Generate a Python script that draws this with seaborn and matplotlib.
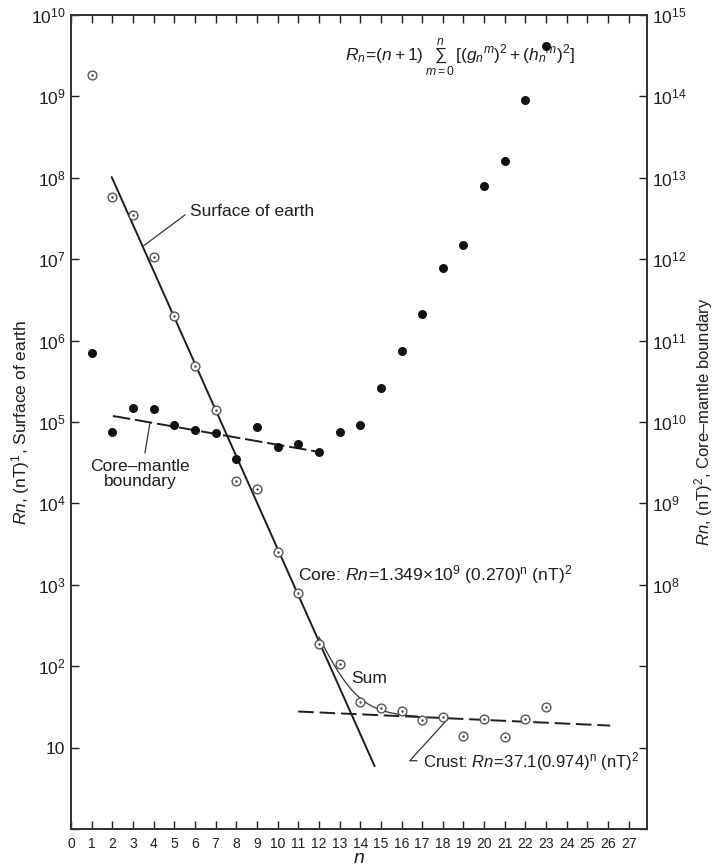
import numpy as np
import pandas as pd
import matplotlib
matplotlib.use("Agg")
import matplotlib.pyplot as plt
from matplotlib.ticker import FixedLocator, FixedFormatter, NullLocator
import seaborn as sns

# ---- data -------------------------------------------------------------
degree = list(range(1, 24))

# Rn at the surface of the earth (left axis, open circles)
surface_rn = [1.83e9, 5.8e7, 3.5e7, 1.05e7, 2.0e6, 4.9e5, 1.4e5, 1.9e4,
              1.5e4, 2.5e3, 800, 190, 106, 36, 31, 28, 22, 24, 14, 22.6,
              13.5, 22.6, 32]

# Rn continued down to the core-mantle boundary (right axis, filled dots)
cmb_rn = [7.0e10, 7.5e9, 1.47e10, 1.43e10, 9.2e9, 8.0e9, 7.4e9, 3.5e9,
          8.7e9, 5.0e9, 5.4e9, 4.3e9, 7.6e9, 9.2e9, 2.6e10, 7.5e10, 2.1e11,
          7.7e11, 1.5e12, 8.0e12, 1.6e13, 9.0e13, 4.2e14]

# fitted power laws Rn = A * r**n
core_fit = [1.349e9, 0.270]      # core, surface values
crust_fit = [37.1, 0.974]        # crust, surface values
cmb_fit = [1.46e10, 0.903]       # flat part at the core-mantle boundary
core_range = [1.97, 14.7]
crust_range = [11.0, 26.1]
cmb_range = [2.03, 12.2]
sum_range = [12.0, 16.8]

left_ticks = [1e0, 1e1, 1e2, 1e3, 1e4, 1e5, 1e6, 1e7, 1e8, 1e9, 1e10]
left_labels = ["", "10", "$10^{2}$", "$10^{3}$", "$10^{4}$", "$10^{5}$",
               "$10^{6}$", "$10^{7}$", "$10^{8}$", "$10^{9}$", "$10^{10}$"]
right_ticks = [1e5, 1e6, 1e7, 1e8, 1e9, 1e10, 1e11, 1e12, 1e13, 1e14, 1e15]
right_labels = ["", "", "", "$10^{8}$", "$10^{9}$", "$10^{10}$", "$10^{11}$",
                "$10^{12}$", "$10^{13}$", "$10^{14}$", "$10^{15}$"]
x_ticks = list(range(0, 28))

surface_df = pd.DataFrame({"n": degree, "Rn": surface_rn})
cmb_df = pd.DataFrame({"n": degree, "Rn": cmb_rn})

# ---- style ------------------------------------------------------------
sns.set_theme(style="ticks")
plt.rcParams["font.family"] = ["Liberation Sans", "DejaVu Sans"]
plt.rcParams["mathtext.fontset"] = "custom"
plt.rcParams["mathtext.rm"] = "Liberation Sans"
plt.rcParams["mathtext.it"] = "Liberation Sans:italic"
plt.rcParams["mathtext.bf"] = "Liberation Sans:bold"
plt.rcParams["mathtext.sf"] = "Liberation Sans"
INK = "#1e1e1e"

fig = plt.figure(figsize=(7.17, 8.67), dpi=100)
ax = fig.add_axes([0.099, 0.0438, 0.803, 0.9389])
ax2 = ax.twinx()

for a in (ax, ax2):
    a.set_yscale("log")
    for s in a.spines.values():
        s.set_linewidth(1.4)
        s.set_color("#333333")

ax.set_xlim(0, 27.87)
ax.set_ylim(1, 1e10)
ax2.set_ylim(1e5, 1e15)

# ---- fitted lines -----------------------------------------------------
def power_law(coef, n):
    return coef[0] * coef[1] ** n

n_core = np.linspace(core_range[0], core_range[1], 100)
sns.lineplot(x=n_core, y=power_law(core_fit, n_core), ax=ax, color=INK,
             lw=1.4, zorder=2)

n_sum = np.linspace(sum_range[0], sum_range[1], 100)
sns.lineplot(x=n_sum, y=power_law(core_fit, n_sum) + power_law(crust_fit, n_sum),
             ax=ax, color="#333333", lw=0.9, zorder=2)

n_crust = np.linspace(crust_range[0], crust_range[1], 100)
crust_line = sns.lineplot(x=n_crust, y=power_law(crust_fit, n_crust), ax=ax,
                          color=INK, lw=1.4, zorder=2)
crust_line.lines[-1].set_dashes((8, 3))

n_cmb = np.linspace(cmb_range[0], cmb_range[1], 100)
cmb_line = sns.lineplot(x=n_cmb, y=power_law(cmb_fit, n_cmb), ax=ax2,
                        color=INK, lw=1.4, zorder=2)
cmb_line.lines[-1].set_dashes((9, 2.5))

# ---- data points ------------------------------------------------------
sns.scatterplot(data=surface_df, x="n", y="Rn", ax=ax, marker="o", s=40,
                facecolor="white", edgecolor="#555555", linewidth=1.0, zorder=3)
sns.scatterplot(data=surface_df, x="n", y="Rn", ax=ax, marker="o", s=3,
                color="#444444", linewidth=0, zorder=4)
sns.scatterplot(data=cmb_df, x="n", y="Rn", ax=ax2, marker="o", s=42,
                color="#111111", linewidth=0, zorder=3)

# ---- axes, ticks ------------------------------------------------------
ax.xaxis.set_major_locator(FixedLocator(x_ticks))
ax.xaxis.set_minor_locator(NullLocator())
ax.set_xticklabels([str(t) for t in x_ticks])
ax.yaxis.set_major_locator(FixedLocator(left_ticks))
ax.yaxis.set_major_formatter(FixedFormatter(left_labels))
ax.yaxis.set_minor_locator(NullLocator())
ax2.yaxis.set_major_locator(FixedLocator(right_ticks))
ax2.yaxis.set_major_formatter(FixedFormatter(right_labels))
ax2.yaxis.set_minor_locator(NullLocator())

ax.tick_params(axis="x", direction="in", top=True, length=6, width=1.0,
               labelsize=10, pad=6, colors=INK)
ax.tick_params(axis="y", direction="in", length=6, width=1.0,
               labelsize=12.5, pad=4, colors=INK)
ax2.tick_params(axis="y", direction="in", length=6, width=1.0,
                labelsize=12.5, pad=4, colors=INK)

ax.set_xlabel("$n$", fontsize=14, color=INK)
ax.xaxis.set_label_coords(0.5, -0.036)
ax.xaxis.label.set_va("center")

ax.set_ylabel("$Rn$, (nT)$^1$, Surface of earth", fontsize=12.5, color=INK)
ax.yaxis.set_label_coords(-0.087, 0.5)
ax.yaxis.label.set_va("center")
ax.yaxis.label.set_ha("center")

ax2.set_ylabel("$Rn$, (nT)$^2$, Core\u2013mantle boundary", fontsize=12,
               color=INK, rotation=90)
ax2.yaxis.set_label_coords(1.098, 0.5)
ax2.yaxis.label.set_va("center")
ax2.yaxis.label.set_ha("center")

# ---- annotations ------------------------------------------------------
txt = dict(color=INK, fontsize=12.5)
lead = dict(color="#333333", lw=0.9)

ax.text(13.26, 2.97e9,
        r"$R_n\!=\!(n+1)\,\sum_{m=0}^{n}\,[(g_n{}^m)^2+(h_n{}^m)^2]$",
        ha="left", va="center", **txt)

ax.plot([3.5, 5.52], [1.45e7, 3.5e7], **lead)
ax.text(5.76, 3.9e7, "Surface of earth", ha="left", va="center", **txt)

ax.plot([3.58, 3.82], [4.16e4, 9.7e4], **lead)
ax.text(3.34, 2.3e4, "Core\u2013mantle\nboundary", ha="center", va="center",
        linespacing=1.05, **txt)

ax.text(10.98, 1.32e3, r"Core: $Rn\!=\!1.349\!\times\!10^9\ (0.270)^{\rm n}\ ({\rm nT})^2$",
        ha="left", va="center", **txt)

ax.text(13.55, 71, "Sum", ha="left", va="center", **txt)

ax.plot([18.24, 16.4, 16.75], [22.5, 6.9, 6.9], **lead)
ax.text(17.03, 6.7, r"Crust: $Rn\!=\!37.1(0.974)^{\rm n}\ ({\rm nT})^2$",
        ha="left", va="center", color=INK, fontsize=12)

fig.savefig("out.png", dpi=100)
